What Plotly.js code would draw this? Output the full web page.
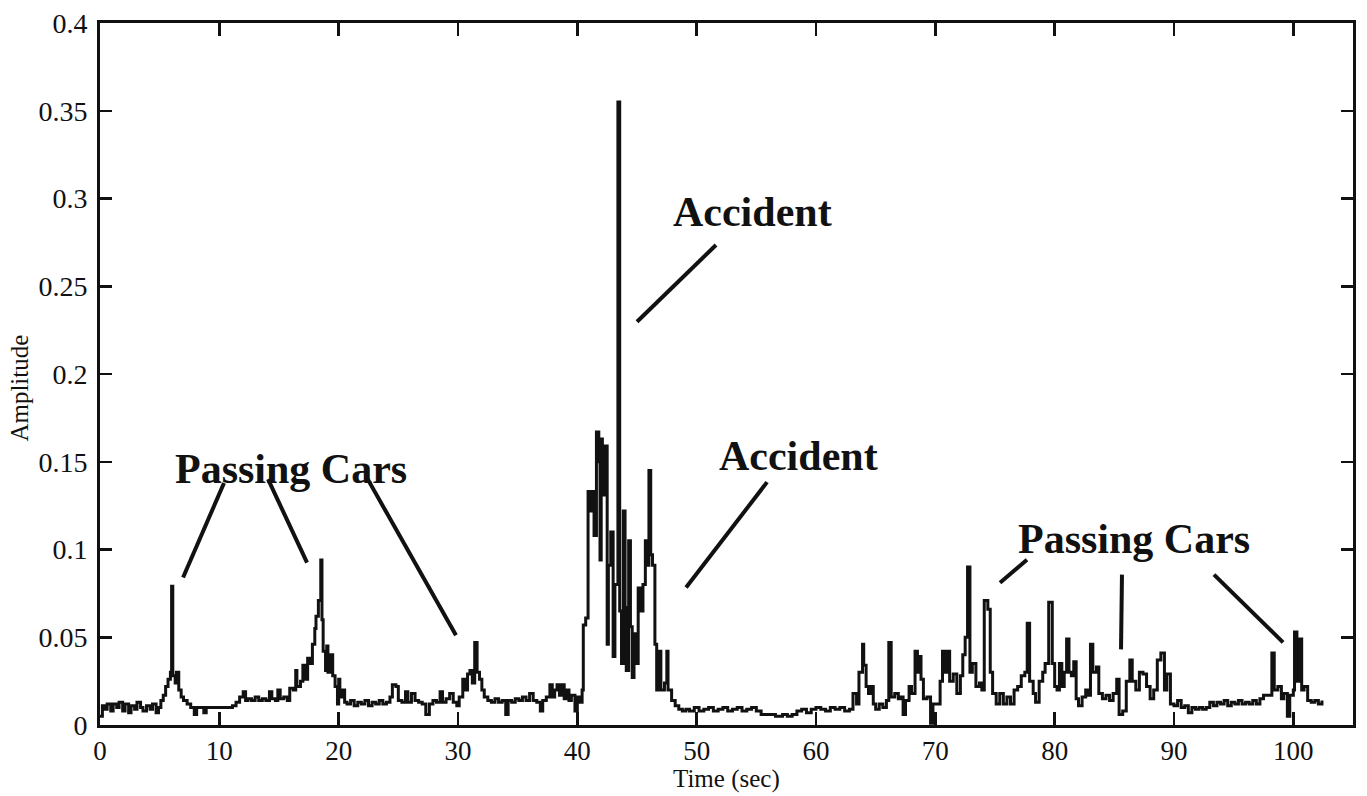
<!DOCTYPE html>
<html>
<head>
<meta charset="utf-8">
<script src="https://cdn.plot.ly/plotly-3.0.1.min.js"></script>
<style>
  html, body { margin: 0; padding: 0; background: #fff; }
  #chart { width: 1367px; height: 796px; }
</style>
</head>
<body>
<div id="chart"></div>
<script>
// Sensor amplitude versus time, sampled as a held (stair-step) signal.
const timeSec = [
  0.0, 0.2, 0.4, 0.6, 0.9, 1.1, 1.4, 1.6, 1.9, 2.1,
  2.4, 2.6, 2.9, 3.1, 3.4, 3.6, 3.9, 4.2, 4.4, 4.7,
  4.9, 5.1, 5.3, 5.5, 5.7, 5.9, 6.0, 6.1, 6.3, 6.4,
  6.6, 6.8, 7.0, 7.3, 7.6, 7.9, 8.1, 8.4, 8.7, 8.9,
  9.3, 9.6, 10.0, 10.4, 10.8, 11.1, 11.4, 11.7, 12.0, 12.2,
  12.4, 12.7, 13.0, 13.3, 13.6, 13.9, 14.2, 14.4, 14.7, 14.9,
  15.1, 15.4, 15.7, 15.9, 16.2, 16.4, 16.5, 16.8, 17.0, 17.2,
  17.4, 17.6, 17.8, 18.0, 18.1, 18.3, 18.5, 18.6, 18.7, 18.9,
  19.0, 19.1, 19.3, 19.5, 19.7, 19.9, 20.0, 20.1, 20.3, 20.5,
  20.7, 21.0, 21.3, 21.6, 21.9, 22.2, 22.5, 22.8, 23.1, 23.4,
  23.7, 24.0, 24.3, 24.5, 24.8, 25.0, 25.3, 25.6, 25.8, 26.1,
  26.4, 26.7, 27.0, 27.3, 27.6, 27.9, 28.2, 28.5, 28.7, 29.0,
  29.3, 29.6, 29.9, 30.1, 30.4, 30.6, 30.8, 31.0, 31.2, 31.4,
  31.6, 31.8, 32.0, 32.2, 32.5, 32.8, 33.1, 33.4, 33.7, 34.0,
  34.2, 34.5, 34.8, 35.1, 35.4, 35.7, 36.0, 36.3, 36.6, 36.9,
  37.1, 37.4, 37.7, 37.9, 38.1, 38.3, 38.5, 38.7, 38.9, 39.1,
  39.3, 39.5, 39.8, 40.0, 40.2, 40.4, 40.5, 40.7, 40.9, 41.1,
  41.3, 41.4, 41.6, 41.8, 41.9, 42.0, 42.1, 42.3, 42.5, 42.6,
  42.8, 43.0, 43.15, 43.4, 43.55, 43.7, 43.85, 44.0, 44.1, 44.3,
  44.45, 44.6, 44.75, 44.9, 45.1, 45.3, 45.5, 45.7, 45.85, 46.0,
  46.15, 46.3, 46.5, 46.65, 46.8, 47.0, 47.3, 47.5, 47.6, 47.9,
  48.2, 48.5, 48.8, 49.1, 49.4, 49.8, 50.2, 50.6, 51.0, 51.4,
  51.8, 52.2, 52.6, 53.0, 53.4, 53.8, 54.2, 54.6, 55.0, 55.4,
  56.0, 56.6, 57.2, 57.6, 58.0, 58.4, 58.8, 59.2, 59.6, 60.0,
  60.4, 60.8, 61.2, 61.6, 62.0, 62.4, 62.8, 63.1, 63.4, 63.6,
  63.9, 64.0, 64.2, 64.4, 64.6, 64.8, 65.0, 65.3, 65.6, 65.9,
  66.1, 66.3, 66.6, 66.9, 67.1, 67.3, 67.5, 67.8, 68.0, 68.3,
  68.5, 68.6, 68.8, 69.0, 69.3, 69.6, 69.8, 70.1, 70.4, 70.6,
  70.8, 71.0, 71.2, 71.5, 71.8, 72.1, 72.3, 72.5, 72.7, 72.9,
  73.1, 73.4, 73.7, 73.9, 74.1, 74.4, 74.6, 74.8, 75.1, 75.4,
  75.7, 76.0, 76.3, 76.6, 76.9, 77.2, 77.5, 77.7, 77.9, 78.2,
  78.4, 78.7, 79.0, 79.2, 79.5, 79.8, 80.0, 80.2, 80.4, 80.6,
  80.8, 81.0, 81.2, 81.4, 81.6, 81.8, 82.0, 82.3, 82.6, 82.8,
  83.0, 83.2, 83.5, 83.7, 84.0, 84.3, 84.6, 84.9, 85.2, 85.4,
  85.7, 86.0, 86.3, 86.5, 86.8, 87.1, 87.4, 87.7, 88.0, 88.3,
  88.6, 88.9, 89.2, 89.4, 89.7, 90.0, 90.3, 90.6, 90.9, 91.2,
  91.5, 91.8, 92.1, 92.4, 92.7, 93.0, 93.3, 93.6, 93.9, 94.2,
  94.5, 94.8, 95.1, 95.4, 95.7, 96.0, 96.3, 96.6, 96.9, 97.2,
  97.5, 97.9, 98.2, 98.4, 98.7, 99.0, 99.2, 99.5, 99.7, 100.0,
  100.1, 100.3, 100.5, 100.7, 100.9, 101.2, 101.5, 101.8, 102.1, 102.4
];

const amplitude = [
  0.005, 0.011, 0.009, 0.012, 0.008, 0.012, 0.010, 0.013, 0.008, 0.012,
  0.007, 0.011, 0.009, 0.013, 0.010, 0.008, 0.011, 0.009, 0.012, 0.007,
  0.010, 0.014, 0.017, 0.022, 0.026, 0.030, 0.079, 0.028, 0.024, 0.030,
  0.020, 0.016, 0.014, 0.012, 0.010, 0.006, 0.010, 0.010, 0.007, 0.010,
  0.010, 0.010, 0.010, 0.010, 0.010, 0.011, 0.013, 0.016, 0.019, 0.014,
  0.015, 0.014, 0.016, 0.014, 0.015, 0.014, 0.019, 0.015, 0.014, 0.020,
  0.015, 0.016, 0.014, 0.021, 0.020, 0.031, 0.022, 0.025, 0.034, 0.026,
  0.038, 0.035, 0.046, 0.055, 0.062, 0.071, 0.094, 0.060, 0.042, 0.031,
  0.045, 0.030, 0.040, 0.028, 0.022, 0.012, 0.026, 0.016, 0.020, 0.013,
  0.012, 0.014, 0.011, 0.013, 0.012, 0.014, 0.011, 0.013, 0.012, 0.014,
  0.012, 0.013, 0.016, 0.023, 0.022, 0.014, 0.013, 0.019, 0.013, 0.018,
  0.014, 0.013, 0.012, 0.006, 0.012, 0.014, 0.013, 0.019, 0.013, 0.015,
  0.018, 0.013, 0.011, 0.016, 0.026, 0.020, 0.029, 0.031, 0.024, 0.047,
  0.030, 0.026, 0.020, 0.016, 0.014, 0.013, 0.015, 0.013, 0.014, 0.006,
  0.014, 0.013, 0.015, 0.014, 0.016, 0.014, 0.018, 0.014, 0.013, 0.008,
  0.014, 0.016, 0.023, 0.016, 0.020, 0.023, 0.017, 0.023, 0.015, 0.020,
  0.014, 0.017, 0.008, 0.016, 0.013, 0.020, 0.057, 0.061, 0.133, 0.122,
  0.133, 0.108, 0.167, 0.150, 0.094, 0.163, 0.131, 0.159, 0.046, 0.091,
  0.110, 0.039, 0.080, 0.355, 0.065, 0.035, 0.122, 0.067, 0.031, 0.105,
  0.056, 0.027, 0.052, 0.035, 0.078, 0.065, 0.080, 0.105, 0.091, 0.145,
  0.097, 0.091, 0.046, 0.020, 0.042, 0.020, 0.024, 0.042, 0.020, 0.014,
  0.011, 0.009, 0.008, 0.009, 0.008, 0.010, 0.008, 0.009, 0.010, 0.008,
  0.009, 0.010, 0.008, 0.009, 0.010, 0.008, 0.009, 0.010, 0.008, 0.006,
  0.006, 0.005, 0.006, 0.005, 0.006, 0.008, 0.009, 0.007, 0.009, 0.010,
  0.009, 0.008, 0.010, 0.009, 0.010, 0.008, 0.009, 0.018, 0.012, 0.030,
  0.046, 0.034, 0.022, 0.018, 0.022, 0.012, 0.009, 0.012, 0.010, 0.014,
  0.047, 0.016, 0.018, 0.015, 0.016, 0.006, 0.014, 0.022, 0.018, 0.042,
  0.030, 0.039, 0.026, 0.015, 0.016, 0.001, 0.012, 0.012, 0.025, 0.042,
  0.030, 0.042, 0.025, 0.029, 0.018, 0.028, 0.040, 0.050, 0.090, 0.030,
  0.035, 0.022, 0.024, 0.020, 0.071, 0.066, 0.030, 0.018, 0.012, 0.018,
  0.012, 0.016, 0.012, 0.020, 0.022, 0.028, 0.030, 0.058, 0.025, 0.018,
  0.013, 0.025, 0.030, 0.035, 0.070, 0.035, 0.022, 0.020, 0.035, 0.022,
  0.030, 0.049, 0.030, 0.028, 0.036, 0.015, 0.011, 0.016, 0.020, 0.017,
  0.046, 0.030, 0.033, 0.018, 0.015, 0.017, 0.014, 0.018, 0.026, 0.006,
  0.008, 0.025, 0.037, 0.025, 0.020, 0.030, 0.029, 0.022, 0.015, 0.020,
  0.037, 0.041, 0.020, 0.029, 0.012, 0.011, 0.014, 0.010, 0.011, 0.007,
  0.010, 0.009, 0.010, 0.009, 0.010, 0.013, 0.011, 0.013, 0.012, 0.014,
  0.011, 0.013, 0.012, 0.014, 0.012, 0.013, 0.012, 0.014, 0.012, 0.015,
  0.017, 0.017, 0.041, 0.020, 0.022, 0.015, 0.018, 0.005, 0.017, 0.020,
  0.053, 0.025, 0.049, 0.020, 0.022, 0.014, 0.013, 0.014, 0.012, 0.014
];

// Axis ticks
const xTicks = [0, 10, 20, 30, 40, 50, 60, 70, 80, 90, 100];
const yTicks = [0, 0.05, 0.1, 0.15, 0.2, 0.25, 0.3, 0.35, 0.4];
const yTickText = ['0', '0.05', '0.1', '0.15', '0.2', '0.25', '0.3', '0.35', '0.4'];

// Callout labels and their pointer lines (in time / amplitude units)
const calloutText = ['Passing Cars', 'Accident', 'Accident', 'Passing Cars'];
const calloutX = [16.0, 54.7, 58.5, 86.65];
const calloutY = [0.1458, 0.2922, 0.1532, 0.1061];
const pointerX0 = [10.39, 14.08, 22.29, 51.62, 55.90, 77.68, 85.64, 93.35];
const pointerY0 = [0.1379, 0.1401, 0.1418, 0.2735, 0.1384, 0.0942, 0.0857, 0.0857];
const pointerX1 = [6.96, 17.35, 29.83, 45.00, 49.11, 75.42, 85.56, 99.14];
const pointerY1 = [0.0840, 0.0925, 0.0511, 0.2298, 0.0783, 0.0811, 0.0431, 0.0471];

const serif = 'Liberation Serif, Times New Roman, serif';
const ink = '#111111';

const trace = {
  x: timeSec,
  y: amplitude,
  type: 'scatter',
  mode: 'lines',
  line: { color: ink, width: 3, shape: 'hv' },
  hoverinfo: 'x+y'
};

const shapes = pointerX0.map((x0, i) => ({
  type: 'line', xref: 'x', yref: 'y',
  x0: x0, y0: pointerY0[i], x1: pointerX1[i], y1: pointerY1[i],
  line: { color: ink, width: 4 }
}));

const annotations = calloutText.map((t, i) => ({
  text: '<b>' + t + '</b>',
  x: calloutX[i], y: calloutY[i], xref: 'x', yref: 'y',
  xanchor: 'center', yanchor: 'middle', showarrow: false,
  font: { family: serif, size: 42, color: ink }
}));

annotations.push({
  text: 'Amplitude', xref: 'paper', yref: 'paper',
  x: -0.065, y: 0.48, xanchor: 'center', yanchor: 'middle',
  textangle: -90, showarrow: false,
  font: { family: serif, size: 25, color: ink }
});
annotations.push({
  text: 'Time (sec)', xref: 'paper', yref: 'paper',
  x: 0.5, y: -0.099, xanchor: 'center', yanchor: 'bottom',
  showarrow: false, borderpad: 0,
  font: { family: serif, size: 25, color: ink }
});

const layout = {
  width: 1367, height: 796,
  margin: { l: 100, r: 14, t: 23, b: 71 },
  paper_bgcolor: '#ffffff', plot_bgcolor: '#ffffff',
  showlegend: false,
  font: { family: serif, size: 28, color: ink },
  xaxis: {
    range: [0, 105], tickvals: xTicks, ticks: 'inside', ticklen: 13, tickwidth: 2.5,
    tickcolor: ink, showline: true, linewidth: 3, linecolor: ink, mirror: 'ticks',
    showgrid: false, zeroline: false,
    tickfont: { family: serif, size: 27, color: ink }
  },
  yaxis: {
    range: [0, 0.4], tickvals: yTicks, ticktext: yTickText, ticks: 'inside', ticklen: 12,
    tickwidth: 2.5, tickcolor: ink, showline: true, linewidth: 3, linecolor: ink,
    mirror: 'ticks', showgrid: false, zeroline: false, ticklabelstandoff: 4,
    tickfont: { family: serif, size: 28, color: ink }
  },
  shapes: shapes,
  annotations: annotations
};

Plotly.newPlot('chart', [trace], layout, { displayModeBar: false, staticPlot: true });
</script>
</body>
</html>
